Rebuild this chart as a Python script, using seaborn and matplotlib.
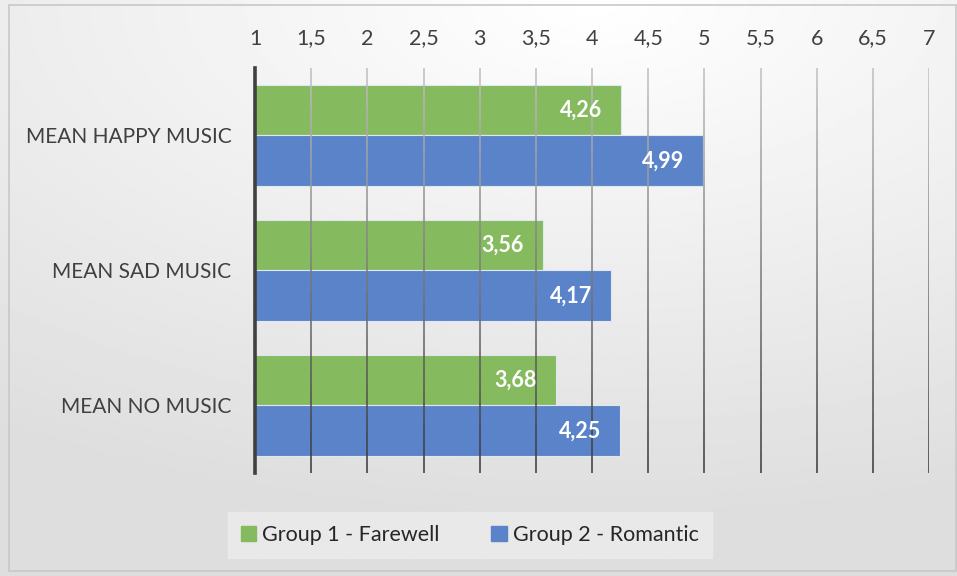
import numpy as np
import pandas as pd
import matplotlib.pyplot as plt
import seaborn as sns
from matplotlib.patches import Rectangle

# chart values
measures = ["MEAN HAPPY MUSIC", "MEAN SAD MUSIC", "MEAN NO MUSIC"]
groups = ["Group 1 - Farewell", "Group 2 - Romantic"]
farewell = [4.26, 3.56, 3.68]
romantic = [4.99, 4.17, 4.25]
x_ticks = [1, 1.5, 2, 2.5, 3, 3.5, 4, 4.5, 5, 5.5, 6, 6.5, 7]

colors = {"Group 1 - Farewell": "#85BA5F", "Group 2 - Romantic": "#5B83CA"}

df = pd.DataFrame({
    "measure": measures * 2,
    "group": [groups[0]] * 3 + [groups[1]] * 3,
    "value": farewell + romantic,
})

sns.set_theme(style="white")
plt.rcParams["font.family"] = ["Lato", "DejaVu Sans"]

fig = plt.figure(figsize=(9.57, 5.76), dpi=100)

# soft gradient background like the office chart area
bg = fig.add_axes([0, 0, 1, 1], zorder=-10)
yy, xx = np.mgrid[0:1:200j, 0:1:300j]
dist = np.sqrt(((xx - 0.62) / 1.1) ** 2 + (yy / 0.9) ** 2)
bg.imshow(1 - 0.13 * np.clip(dist, 0, 1), cmap="gray", vmin=0, vmax=1,
          extent=[0, 1, 0, 1], aspect="auto", origin="upper")
bg.add_patch(Rectangle((0.009, 0.008), 0.99, 0.984, fill=False,
                       edgecolor="#c8c8c8", linewidth=1.2))
bg.set_axis_off()

ax = fig.add_axes([0.2665, 0.179, 0.7043, 0.703])
ax.patch.set_alpha(0)
sns.barplot(data=df, x="value", y="measure", hue="group", orient="h",
            palette=colors, saturation=1, width=0.75, ax=ax, legend=False,
            edgecolor="#dfe8f0", linewidth=0.8)

ax.set_xlim(1, 7)
ax.set_ylim(2.5, -0.5)
ax.set_xticks(x_ticks)
ax.set_xticklabels([f"{t:g}".replace(".", ",") for t in x_ticks])
ax.xaxis.tick_top()
ax.tick_params(axis="x", length=0, pad=14, labelsize=15.5, labelcolor="#404040")
ax.tick_params(axis="y", length=0, pad=17, labelsize=15, labelcolor="#404040")
ax.set_xlabel("")
ax.set_ylabel("")

for s in ["top", "right", "bottom"]:
    ax.spines[s].set_visible(False)
ax.spines["left"].set_color("#404040")
ax.spines["left"].set_linewidth(2.6)
ax.spines["left"].set_zorder(5)

# gridlines drawn over the bars, getting darker toward the bottom
n_seg = 40
edges = np.linspace(-0.5, 2.5, n_seg + 1)
for t in x_ticks[1:]:
    for i in range(n_seg):
        shade = 0.75 - 0.55 * (i / n_seg)
        ax.plot([t, t], [edges[i], edges[i + 1]], color=str(shade),
                linewidth=1.1, zorder=4, solid_capstyle="butt")

for bar in ax.patches:
    w = bar.get_width()
    ax.text(w - 0.17, bar.get_y() + bar.get_height() / 2,
            f"{w:.2f}".replace(".", ","), ha="right", va="center",
            color="white", fontsize=15.5, fontweight="bold", zorder=6)

handles = [Rectangle((0, 0), 1, 1, color=colors[g]) for g in groups]
leg = fig.legend(handles, groups, loc="center", bbox_to_anchor=(0.491, 0.071),
                 ncol=2, frameon=True, fontsize=15.5, handlelength=0.7,
                 handleheight=0.7, handletextpad=0.3, columnspacing=2.4,
                 borderpad=0.6, borderaxespad=0, fancybox=False)
leg.get_frame().set_facecolor("#ececec")
leg.get_frame().set_edgecolor("#ececec")
for txt in leg.get_texts():
    txt.set_color("#262626")

fig.savefig("out.png", dpi=100)
